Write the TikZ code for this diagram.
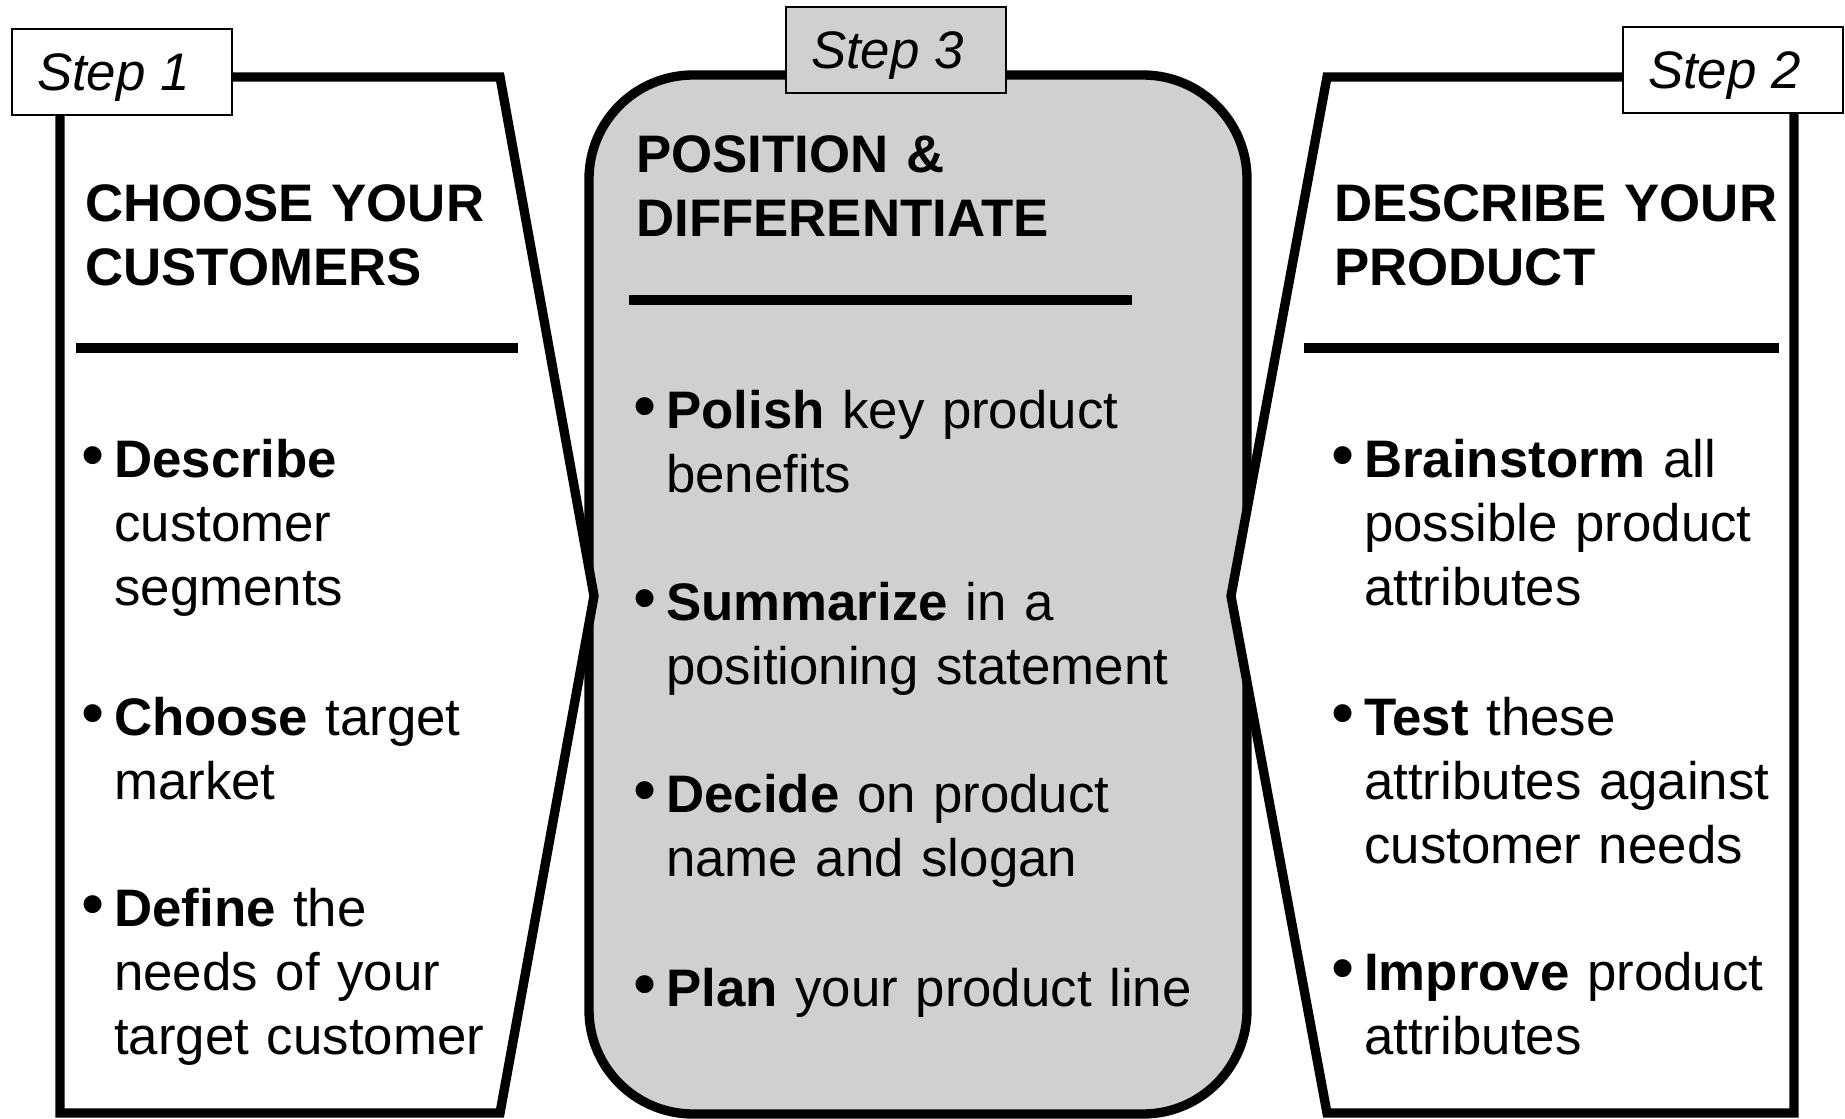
\documentclass[tikz,border=0pt]{standalone}
\usepackage{fontspec}
\setmainfont{Liberation Sans}
\usepackage{graphicx}
\usepackage{tikz}

\definecolor{panelgray}{RGB}{208,208,208}
\newcommand{\bul}{\llap{\scalebox{1.25}{\textbullet}\hspace{7pt}}}

\begin{document}
\begin{tikzpicture}[x=0.75pt,y=0.75pt,yscale=-1,xscale=1,
  panel/.style={line width=7pt, line join=miter},
  sepline/.style={line width=7.5pt},
  steplabel/.style={draw, line width=1.5pt, minimum width=165pt, minimum height=64.5pt, inner sep=0pt, font=\fontsize{39.6}{48}\selectfont\itshape, text height=28.5pt, text depth=0pt, execute at end node={\hspace{13pt}}},
  head/.style={anchor=base west, inner sep=0pt, text width=340pt, align=left, font=\fontsize{39.6}{48}\selectfont\bfseries},
  itemtext/.style={anchor=base west, inner sep=0pt, text width=420pt, align=left, font=\fontsize{39.6}{48}\selectfont}
]
\useasboundingbox (0,0) rectangle (1845,1119);

%Shape: Rounded Rect (step 3)
\draw [panel, fill=panelgray, rounded corners=78pt] (589,75) rectangle (1247,1114) ;
%Shape: Polygon (step 1)
\draw [panel, fill=white] (60,77) -- (500,77) -- (594,596) -- (500,1113) -- (60,1113) -- cycle ;
%Shape: Polygon (step 2)
\draw [panel, fill=white] (1327,77) -- (1794,77) -- (1794,1113) -- (1327,1113) -- (1231,596) -- cycle ;

%Straight Lines
\draw [sepline] (76,348) -- (518,348) ;
%Straight Lines
\draw [sepline] (629,300) -- (1132,300) ;
%Straight Lines
\draw [sepline] (1304,348) -- (1779,348) ;

% Step labels
\node [steplabel, fill=white] (stepone) at (122,72) {Step 1};
\node [steplabel, fill=panelgray] (stepthree) at (896,50) {Step 3};
\node [steplabel, fill=white] (steptwo) at (1733,70) {Step 2};

% Text Node
\node [head] (custhead) at (85,222) {CHOOSE YOUR\\CUSTOMERS};
% Text Node
\node [itemtext] (custa) at (114,478) {\bul\textbf{Describe}\\customer\\segments};
% Text Node
\node [itemtext] (custb) at (114,735) {\bul\textbf{Choose} target\\market};
% Text Node
\node [itemtext] (custc) at (114,926) {\bul\textbf{Define} the\\needs of your\\target customer};

% Text Node
\node [head] (poshead) at (636,173) {POSITION \&\\DIFFERENTIATE};
% Text Node
\node [itemtext] (posa) at (666,429) {\bul\textbf{Polish} key product\\benefits};
% Text Node
\node [itemtext] (posb) at (666,620) {\bul\textbf{Summarize} in a\\positioning statement};
% Text Node
\node [itemtext] (posc) at (666,812) {\bul\textbf{Decide} on product\\name and slogan};
% Text Node
\node [itemtext] (posd) at (666,1006) {\bul\textbf{Plan} your product line};

% Text Node
\node [head] (prodhead) at (1334,222) {DESCRIBE YOUR\\PRODUCT};
% Text Node
\node [itemtext] (proda) at (1364,478) {\bul\textbf{Brainstorm} all\\possible product\\attributes};
% Text Node
\node [itemtext] (prodb) at (1364,735) {\bul\textbf{Test} these\\attributes against\\customer needs};
% Text Node
\node [itemtext] (prodc) at (1364,990) {\bul\textbf{Improve} product\\attributes};

\end{tikzpicture}
\end{document}
